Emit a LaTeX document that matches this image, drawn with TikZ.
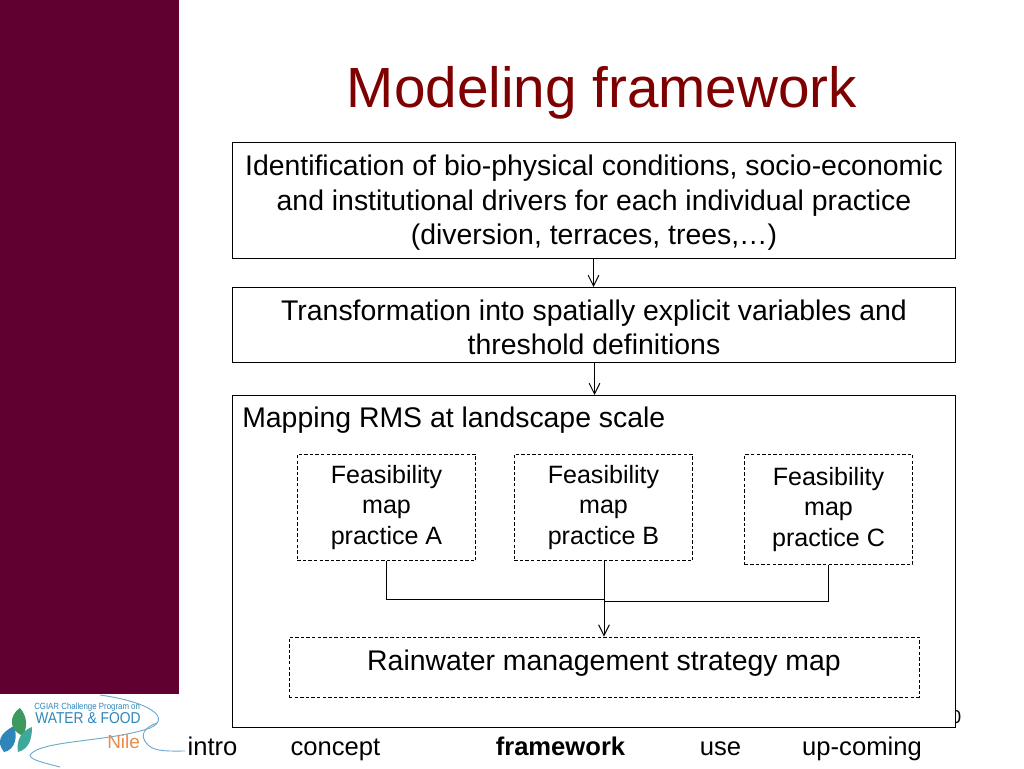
\documentclass[tikz,border=0pt]{standalone}
\usepackage{fontspec}
\setmainfont{Liberation Sans}
\newfontfamily\logofont{Liberation Sans}[FakeStretch=0.88]
\usetikzlibrary{arrows.meta,positioning,calc}
\definecolor{panelred}{HTML}{600030}
\definecolor{titlered}{HTML}{7F0000}
\definecolor{logoblue}{HTML}{2E86B8}
\definecolor{logogreen}{HTML}{3C9A5F}
\definecolor{logoteal}{HTML}{3FA79B}
\definecolor{logoorange}{HTML}{E98A4A}
\tikzset{
  box/.style={rectangle,draw=black,fill=white,inner sep=0pt,align=center,line width=0.75pt,font=\fontsize{21.3}{25.9}\selectfont},
  mapbox/.style={rectangle,draw=black,dashed,dash pattern=on 2.6pt off 1.6pt,inner sep=0pt,align=center,line width=0.7pt,font=\fontsize{18.8}{23}\selectfont},
  nav/.style={inner sep=0pt,anchor=base,font=\fontsize{19.2}{20}\selectfont},
  link/.style={line width=0.75pt},
  flow/.style={->,>={Straight Barb[length=8pt,width=8pt]},line width=0.75pt},
  swoosh/.style={draw=logoblue!70,line width=0.7pt}
}
\begin{document}
\begin{tikzpicture}[x=0.75pt,y=-0.75pt]
  \useasboundingbox (0,0) rectangle (1024,768);
  \fill[panelred] (0,0) rectangle (179,694);
  \node[inner sep=0pt,text=titlered,font=\fontsize{42.5}{46}\selectfont] (title) at (602,92.5) {Modeling framework};
  % slide number, mostly hidden by the big box
  \node[inner sep=0pt,font=\fontsize{14}{16}\selectfont] (num) at (956,717) {0};

  \node[box,minimum width=542.25pt,minimum height=87pt] (drivers) at (594,200.5) {\rule{0pt}{19pt}Identification of bio-physical conditions, socio-economic\\and institutional drivers for each individual practice\\(diversion, terraces, trees,…)};
  \node[box,minimum width=542.25pt,minimum height=56.25pt] (spatial) at (594,325) {\rule{0pt}{19pt}Transformation into spatially explicit variables and\\threshold definitions};
  \node[box,minimum width=542.25pt,minimum height=249pt] (rms) at (594,561.5) {};
  \node[inner sep=0pt,anchor=base west,font=\fontsize{21.3}{24}\selectfont] (rmstext) at (242,427) {Mapping RMS at landscape scale};

  \node[mapbox,minimum width=134pt,minimum height=80pt] (mapA) at (386.5,507.5) {Feasibility\\map\\practice A};
  \node[mapbox,minimum width=134pt,minimum height=80pt] (mapB) at (603.5,507.5) {Feasibility\\map\\practice B};
  \node[mapbox,minimum width=126pt,minimum height=83pt] (mapC) at (828.5,509.5) {Feasibility\\map\\practice C};
  \node[mapbox,minimum width=472.5pt,minimum height=45pt,text depth=10pt,font=\fontsize{21.3}{24}\selectfont] (rain) at (604,667) {Rainwater management strategy map};

  \coordinate (joinA) at (604,599.5);
  \coordinate (joinC) at (604,601.5);
  \draw[flow] (drivers.south -| 593.5,0) -- (spatial.north -| 593.5,0);
  \draw[flow] (spatial.south -| 594.5,0) -- (rms.north -| 594.5,0);
  \draw[link] (mapA.south) |- (joinA);
  \draw[link] (mapC.south) |- (joinC);
  \draw[flow] (mapB.south -| rain.north) -- (rain.north);

  \node[nav] (intro) at (212.5,755) {intro};
  \node[nav] (concept) at (335.5,755) {concept};
  \node[nav,font=\fontsize{19.2}{20}\selectfont\bfseries] (framework) at (560.5,755) {framework};
  \node[nav] (use) at (720.5,755) {use};
  \node[nav] (upcoming) at (862,755) {up-coming};

  % logo
  \fill[logoblue] (4,752) .. controls (-4,742) and (0,733) .. (14,726) .. controls (18,737) and (15,750) .. (4,752);
  \fill[logogreen] (12,724) .. controls (11,717) and (15,711) .. (20,708) .. controls (27,716) and (28,726) .. (23,736) .. controls (18,734) and (13,730) .. (12,724);
  \fill[logoteal] (18,752) .. controls (16,741) and (21,731) .. (32,727) .. controls (32,739) and (29,749) .. (18,752);
  \draw[swoosh] (100,695) .. controls (150,702) and (172,718) .. (150,728) .. controls (110,742) and (40,740) .. (30,755) .. controls (30,760) and (45,763) .. (60,767);
  \draw[swoosh] (157,723) .. controls (145,727) and (138,735) .. (148,745) .. controls (155,752) and (170,751) .. (185,751);
  \node[inner sep=0pt,anchor=base west,text=logoblue,font=\logofont\fontsize{6.7}{8}\selectfont] (cgiar) at (34,709) {CGIAR Challenge Program on};
  \node[inner sep=0pt,anchor=base west,text=logoblue,font=\logofont\fontsize{11.8}{14}\selectfont] (water) at (35,723) {WATER \& FOOD};
  \node[inner sep=0pt,anchor=base west,text=logoorange,font=\fontsize{14.2}{16}\selectfont] (nile) at (107,748) {Nile};
\end{tikzpicture}
\end{document}
